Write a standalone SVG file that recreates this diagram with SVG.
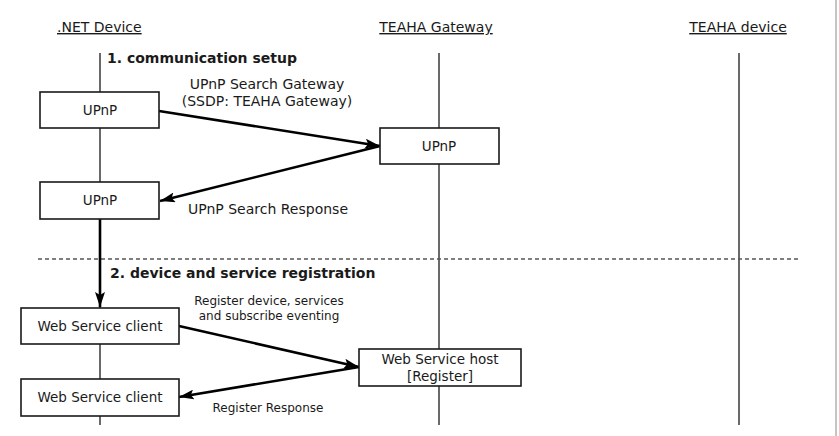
<svg xmlns="http://www.w3.org/2000/svg" width="839" height="436" viewBox="0 0 839 436">
<style>
text{font-family:"DejaVu Sans","Liberation Sans",sans-serif;fill:#1a1a1a}
.hdr{font-size:14px;text-decoration:underline}
.t{font-size:13.5px;text-anchor:middle}
.m{font-size:14px;text-anchor:middle}
.s{font-size:12px;text-anchor:middle}
.b{font-size:14px;font-weight:bold}
.box{fill:#fff;stroke:#1a1a1a;stroke-width:1.6}
.life{stroke:#1a1a1a;stroke-width:1.3;fill:none}
.msg{stroke:#000;stroke-width:2.6;fill:none}
</style>
<defs>
<marker id="ah" markerUnits="userSpaceOnUse" markerWidth="16" markerHeight="10" refX="15" refY="5" orient="auto">
<path d="M0,0 L15,5 L0,10 L3,5 Z" fill="#000"/>
</marker>
</defs>
<rect width="839" height="436" fill="#fff"/>
<line x1="836" y1="0" x2="836" y2="436" stroke="#b0b0b0" stroke-width="1.5"/>
<g id="headers">
<text class="hdr" x="57" y="32">.NET Device</text>
<text class="hdr" x="436" y="32" text-anchor="middle">TEAHA Gateway</text>
<text class="hdr" x="738" y="32" text-anchor="middle">TEAHA device</text>
</g>
<g id="lifelines">
<line class="life" x1="100" y1="53" x2="100" y2="425"/>
<line class="life" x1="439" y1="53" x2="439" y2="425"/>
<line class="life" x1="739" y1="53" x2="739" y2="425"/>
</g>
<line x1="38" y1="259" x2="799" y2="259" stroke="#555" stroke-width="1.3" stroke-dasharray="4,3"/>
<text class="b" x="107" y="63">1. communication setup</text>
<text class="b" x="110" y="278">2. device and service registration</text>
<g id="connectors">
<line class="msg" x1="159" y1="111" x2="380" y2="146" marker-end="url(#ah)"/>
<line class="msg" x1="380" y1="146" x2="160" y2="201" marker-end="url(#ah)"/>
<line class="msg" x1="100" y1="219" x2="100" y2="307" marker-end="url(#ah)"/>
<line class="msg" x1="179" y1="326" x2="359" y2="367" marker-end="url(#ah)"/>
<line class="msg" x1="359" y1="367" x2="179" y2="397" marker-end="url(#ah)"/>
</g>
<g id="labels">
<text class="m" x="267" y="89">UPnP Search Gateway</text>
<text class="m" x="267" y="106">(SSDP: TEAHA Gateway)</text>
<text class="m" x="268" y="214">UPnP Search Response</text>
<text class="s" x="269" y="305">Register device, services</text>
<text class="s" x="269" y="320">and subscribe eventing</text>
<text class="s" x="268" y="412">Register Response</text>
</g>
<g id="net-upnp-1"><rect class="box" x="40" y="92" width="119" height="36"/><text class="t" x="100" y="115">UPnP</text></g>
<g id="gw-upnp"><rect class="box" x="380" y="128" width="119" height="36"/><text class="t" x="439" y="151">UPnP</text></g>
<g id="net-upnp-2"><rect class="box" x="40" y="182" width="119" height="37"/><text class="t" x="100" y="205">UPnP</text></g>
<g id="ws-client-1"><rect class="box" x="21" y="308" width="158" height="36"/><text class="t" x="100" y="331">Web Service client</text></g>
<g id="ws-host"><rect class="box" x="359" y="349" width="162" height="37"/><text class="t" x="440" y="364">Web Service host</text><text class="t" x="440" y="381">[Register]</text></g>
<g id="ws-client-2"><rect class="box" x="21" y="379" width="158" height="37"/><text class="t" x="100" y="402">Web Service client</text></g>
</svg>
